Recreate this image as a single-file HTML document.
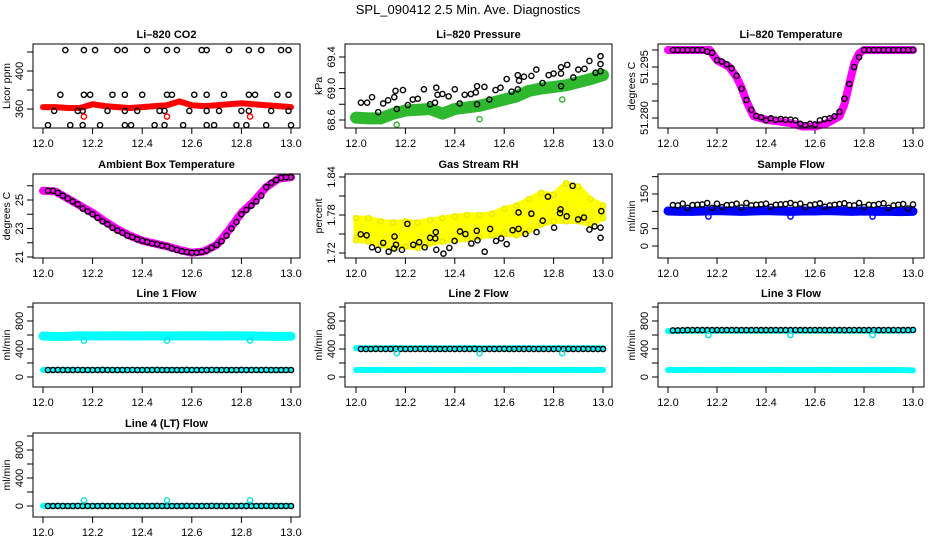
<!DOCTYPE html>
<html><head><meta charset="utf-8">
<style>
html,body{margin:0;padding:0;background:#fff;}
svg{display:block;font-family:"Liberation Sans",sans-serif;}
</style></head>
<body>
<svg id="c" width="936" height="540" viewBox="0 0 936 540" xmlns="http://www.w3.org/2000/svg">
<rect width="936" height="540" fill="#fff"/>
<text x="468" y="14" text-anchor="middle" font-size="13">SPL_090412  2.5 Min. Ave. Diagnostics</text>
</svg>
<script>
// ---------- shared time axes ----------
var bandTimes = [12.0,12.05,12.1,12.15,12.2,12.25,12.3,12.35,12.4,12.45,12.5,12.55,12.6,12.65,12.7,12.75,12.8,12.85,12.9,12.95,13.0];
var blackTimes = [12.02,12.04,12.06,12.08,12.1,12.12,12.14,12.16,12.18,12.2,12.22,12.24,12.26,12.28,12.3,12.32,12.34,12.36,12.38,12.4,12.42,12.44,12.46,12.48,12.5,12.52,12.54,12.56,12.58,12.6,12.62,12.64,12.66,12.68,12.7,12.72,12.74,12.76,12.78,12.8,12.82,12.84,12.86,12.88,12.9,12.92,12.94,12.96,12.98,13.0];
var outlierTimes = [12.165,12.5,12.835];
var xTicks = [12.0,12.2,12.4,12.6,12.8,13.0];
var xTickLabels = ["12.0","12.2","12.4","12.6","12.8","13.0"];

// ---------- CO2 ----------
var co2Band = [362,362,361,361,365,363,362,361,362,363,364,368,364,363,364,365,366,365,364,363,362];
var co2BlackTimes = [12.09,12.165,12.21,12.30,12.33,12.42,12.50,12.54,12.64,12.66,12.75,12.83,12.88,12.96,12.99,
 12.07,12.165,12.19,12.28,12.33,12.40,12.50,12.52,12.61,12.66,12.73,12.83,12.855,12.945,12.99,
 12.045,12.14,12.16,12.26,12.33,12.38,12.47,12.49,12.59,12.66,12.71,12.80,12.83,12.92,12.99,
 12.02,12.11,12.16,12.23,12.33,12.355,12.45,12.49,12.565,12.66,12.69,12.78,12.82,12.90,13.0];
var co2Black = [422,422,422,422,422,422,422,422,422,422,422,422,422,422,422,
 375,375,375,375,375,375,375,375,375,375,375,375,375,375,375,
 358,358,358,358,358,358,358,358,358,358,358,358,358,358,358,
 343,343,343,343,343,343,343,343,343,343,343,343,343,343,343];
var co2Outliers = [352,352,352];

// ---------- Pressure ----------
var presBand = [68.63,68.62,68.62,68.68,68.72,68.73,68.74,68.68,68.74,68.76,68.78,68.82,68.86,68.90,68.97,69.00,69.02,69.04,69.08,69.12,69.17];
var presBlackTimes = [12.02,12.045,12.065,12.09,12.11,12.13,12.155,12.16,12.165,12.19,12.21,12.23,12.25,12.275,12.30,12.32,12.325,12.33,12.35,12.375,12.40,12.42,12.44,12.465,12.485,12.49,12.49,12.52,12.54,12.565,12.585,12.61,12.63,12.655,12.655,12.66,12.68,12.71,12.73,12.755,12.78,12.80,12.83,12.83,12.83,12.855,12.88,12.90,12.925,12.945,12.97,12.99,12.99,12.99];
var presBlack = [68.82,68.82,68.89,68.70,68.81,68.85,68.89,68.97,68.74,68.98,68.79,68.86,68.87,68.99,68.80,68.82,69.01,68.92,68.93,68.90,68.99,68.81,68.92,68.93,68.95,69.03,68.80,69.02,68.86,68.98,69.01,69.12,68.96,68.99,69.17,69.10,69.15,69.16,69.24,69.07,69.17,69.19,69.19,69.27,69.03,69.30,69.14,69.24,69.25,69.35,69.20,69.22,69.31,69.41];
var presOutliers = [68.54,68.61,68.86];

// ---------- Li-820 temperature ----------
var tempBandTimes = [12.0,12.1,12.17,12.2,12.25,12.28,12.3,12.32,12.35,12.4,12.5,12.55,12.6,12.65,12.7,12.72,12.74,12.76,12.78,12.8,12.9,13.0];
var tempBand = [51.300,51.300,51.300,51.297,51.295,51.292,51.289,51.285,51.2805,51.2795,51.2785,51.2775,51.2775,51.2785,51.2805,51.2840,51.2900,51.2960,51.2990,51.300,51.300,51.300];
var tempBlack = [51.300,51.300,51.300,51.300,51.300,51.300,51.300,51.2995,51.2992,51.2970,51.2966,51.2958,51.2946,51.2924,51.2886,51.2853,51.2824,51.2806,51.2802,51.2793,51.2799,51.2795,51.2797,51.2795,51.2795,51.2793,51.2783,51.2779,51.2783,51.2781,51.2793,51.2797,51.2799,51.2805,51.2818,51.2857,51.2900,51.2950,51.2979,51.3000,51.3000,51.3000,51.3000,51.3000,51.3000,51.3000,51.3000,51.3000,51.3000,51.3000];

// ---------- Ambient box temperature ----------
var ambBand = [25.65,25.6,25.1,24.6,24.1,23.5,22.95,22.5,22.15,21.95,21.75,21.5,21.3,21.4,21.85,22.9,24.1,24.9,25.9,26.5,26.6];
var ambBlack = [25.65,25.65,25.5,25.3,25.1,24.9,24.7,24.4,24.2,24.0,23.75,23.5,23.3,23.05,22.85,22.7,22.5,22.4,22.25,22.15,22.05,21.95,21.9,21.8,21.75,21.6,21.5,21.4,21.35,21.3,21.3,21.35,21.45,21.65,21.85,22.1,22.5,23.0,23.45,24.0,24.3,24.6,24.9,25.3,25.9,26.2,26.4,26.55,26.6,26.6];

// ---------- Gas stream RH ----------
var rhHi = [1.775,1.775,1.770,1.768,1.770,1.768,1.772,1.775,1.778,1.780,1.780,1.782,1.790,1.795,1.805,1.815,1.812,1.830,1.825,1.805,1.795];
var rhLo = [1.740,1.738,1.732,1.728,1.730,1.728,1.735,1.738,1.740,1.742,1.745,1.748,1.750,1.748,1.755,1.765,1.770,1.770,1.770,1.765,1.775];
var rhBlackTimes = [12.019,12.043,12.065,12.089,12.110,12.132,12.154,12.156,12.162,12.186,12.208,12.232,12.256,12.278,12.300,12.321,12.323,12.325,12.354,12.378,12.399,12.421,12.443,12.467,12.489,12.492,12.521,12.543,12.567,12.588,12.610,12.634,12.658,12.658,12.686,12.710,12.731,12.756,12.777,12.802,12.826,12.828,12.853,12.877,12.899,12.923,12.945,12.966,12.99,12.99,12.993];
var rhBlack = [1.7495,1.748,1.729,1.725,1.736,1.722,1.727,1.746,1.733,1.725,1.766,1.733,1.737,1.729,1.744,1.743,1.753,1.725,1.719,1.728,1.739,1.754,1.750,1.735,1.755,1.740,1.722,1.758,1.739,1.743,1.734,1.756,1.784,1.758,1.750,1.782,1.753,1.771,1.809,1.760,1.783,1.789,1.778,1.826,1.773,1.776,1.757,1.762,1.760,1.744,1.786];

// ---------- Sample flow ----------
var sampBand = [101,100,100,101,102,101,100,101,102,101,100,101,101,102,101,100,101,100,100,99,100];
var sampBlack = [118,117,122,110,118,119,120,124,110,122,112,118,119,122,111,124,117,119,120,122,113,119,120,121,124,119,122,112,118,120,123,113,117,119,121,123,118,117,124,112,119,118,121,123,110,117,119,121,108,120];
var sampOutliers = [85,85,85];

// ---------- Line flows ----------
var l1Upper = [585,578,580,590,585,588,590,586,588,590,585,587,590,588,586,590,588,585,583,580,582];
var l1Lower = [100,100,101,100,100,101,100,100,100,101,100,100,100,101,100,100,100,101,100,100,100];
var l1Black = [100,100,101,100,100,100,101,100,100,100,100,101,100,100,100,100,100,101,100,100,100,100,101,100,100,100,100,100,101,100,100,100,100,101,100,100,100,100,100,101,100,100,100,100,101,100,100,100,100,100];
var l1Outliers = [520,520,520];
var l2Upper = [412,410,410,412,411,410,412,410,411,412,410,411,410,412,411,410,412,411,410,412,410];
var l2Lower = [100,100,101,100,100,101,100,100,100,101,100,100,100,101,100,100,100,101,100,100,100];
var l2Black = [400,400,400,401,400,400,400,401,400,400,400,400,401,400,400,400,400,400,401,400,400,400,400,401,400,400,400,400,400,401,400,400,400,400,401,400,400,400,400,400,401,400,400,400,400,401,400,400,400,400];
var l2Outliers = [340,340,340];
var l3Upper = [655,660,660,662,660,661,660,662,660,661,660,662,660,661,660,662,660,661,660,662,665];
var l3Lower = [100,100,101,100,100,101,100,100,100,101,100,100,100,101,100,100,100,101,100,100,95];
var l3Black = [665,666,668,670,670,671,670,670,670,671,670,670,670,671,670,670,670,671,670,670,670,671,670,670,670,671,670,670,670,671,670,670,670,671,670,670,670,671,670,670,670,671,670,670,670,671,670,670,670,672];
var l3Outliers = [600,600,600];
var l4Band = [2,1,2,1,2,1,2,1,2,1,2,1,2,1,2,1,2,1,2,1,2];
var l4Black = [0,0,1,0,0,0,1,0,0,0,0,1,0,0,0,0,0,1,0,0,0,0,1,0,0,0,0,0,1,0,0,0,0,1,0,0,0,0,0,1,0,0,0,0,1,0,0,0,0,0];
var l4Outliers = [80,80,80];

// ---------- axis config ----------
var co2Ticks=[360,380,400,420], co2Labels=["360","","400",""];
var presTicks=[68.6,68.8,69.0,69.2,69.4], presLabels=["68.6","","69.0","","69.4"];
var tempTicks=[51.280,51.285,51.290,51.295,51.300], tempLabels=["51.280","","","51.295",""];
var ambTicks=[21,22,23,24,25,26], ambLabels=["21","","23","","25",""];
var rhTicks=[1.72,1.75,1.78,1.81,1.84], rhLabels=["1.72","","1.78","","1.84"];
var sampTicks=[0,50,100,150,200], sampLabels=["0","50","","150",""];
var flowTicks=[0,200,400,600,800,1000], flowLabels=["0","","400","","800",""];

var NS="http://www.w3.org/2000/svg";
var svg=document.getElementById('c');
function mk(tag,attrs,parent){var e=document.createElementNS(NS,tag);for(var k in attrs)e.setAttribute(k,attrs[k]);(parent||svg).appendChild(e);return e;}

var cols=[{L:33,R:300,x0:43,x1:291},{L:345,R:612,x0:356,x1:603},{L:658,R:924,x0:668,x1:913}];
var rows=[{T:44,B:128},{T:174,B:258},{T:303,B:387},{T:433,B:517}];

function panel(name,title,ytitle,c,r,v1,y1off,v2,y2off,ticks,labels){
  var col=cols[c],row=rows[r];
  var g=mk('g',{});
  
  
  var ya=row.T+y1off, yb=row.T+y2off;
  var p={g:g,
    x:function(t){return col.x0+(t-12)*(col.x1-col.x0);},
    y:function(v){return ya+(v-v1)*(yb-ya)/(v2-v1);}};
  var t=mk('text',{x:(col.L+col.R)/2,y:row.T-6,'text-anchor':'middle','font-size':'11','font-weight':'bold'},g);
  t.textContent=title;
  
  
  var yt=mk('text',{'font-size':'10.5','text-anchor':'middle',transform:'translate('+(col.L-23)+','+((row.T+row.B)/2)+') rotate(-90)'},g);
  yt.textContent=ytitle;
  
  
  for(var i=0;i<xTicks.length;i++){
    var xx=p.x(xTicks[i]);
    var tk=mk('line',{x1:xx,x2:xx,y1:row.B,y2:row.B+6,stroke:'#000','stroke-width':1},g);
    
    
    var tl=mk('text',{x:xx,y:row.B+19,'text-anchor':'middle','font-size':'11'},g);
    tl.textContent=xTickLabels[i];
    
    
  }
  for(var j=0;j<ticks.length;j++){
    var yy=p.y(ticks[j]);
    var yk=mk('line',{x1:col.L-6,x2:col.L,y1:yy,y2:yy,stroke:'#000','stroke-width':1},g);
    
    
    if(labels[j]){
      var yl=mk('text',{'font-size':'11','text-anchor':'middle',transform:'translate('+(col.L-10)+','+yy+') rotate(-90)'},g);
      yl.textContent=labels[j];
      
      
    }
  }
  p.finish=function(){
    var b=mk('rect',{x:col.L,y:row.T,width:col.R-col.L,height:row.B-row.T,fill:'none',stroke:'#000','stroke-width':1},g);
    
    
  };
  return p;
}
function band(p,ts,vs,color,w,nm){
  var pts=[];for(var i=0;i<ts.length;i++)pts.push(p.x(ts[i])+','+p.y(vs[i]));
  var l=mk('polyline',{points:pts.join(' '),fill:'none',stroke:color,'stroke-width':w,'stroke-linejoin':'round','stroke-linecap':'round'},p.g);
  
  
}
function pts(p,ts,vs,color,nm){
  for(var i=0;i<ts.length;i++){
    var c=mk('circle',{cx:p.x(ts[i]),cy:p.y(vs[i]),r:2.6,fill:'none',stroke:color,'stroke-width':1.4},p.g);
    
    
  }
}

// CO2
var p=panel('co2','Li\u2013820 CO2','Licor ppm',0,0,360,65,400,27,co2Ticks,co2Labels);
band(p,bandTimes,co2Band,'#ff0000',6,'co2-band');
pts(p,co2BlackTimes,co2Black,'#000','co2-point');
pts(p,outlierTimes,co2Outliers,'#ff0000','co2-outlier');
p.finish();

// Pressure
p=panel('pressure','Li\u2013820 Pressure','kPa',1,0,68.6,76,69.4,13,presTicks,presLabels);
band(p,bandTimes,presBand,'#2db82d',12,'pressure-band');
pts(p,presBlackTimes,presBlack,'#000','pressure-point');
pts(p,outlierTimes,presOutliers,'#2db82d','pressure-outlier');
p.finish();

// Temperature
p=panel('li820-temp','Li\u2013820 Temperature','degrees C',2,0,51.280,74,51.295,23,tempTicks,tempLabels);
band(p,tempBandTimes,tempBand,'#ff00ff',8,'temp-band');
pts(p,blackTimes,tempBlack,'#000','temp-point');
p.finish();

// Ambient
p=panel('ambient-temp','Ambient Box Temperature','degrees C',0,1,21,83,25,26,ambTicks,ambLabels);
band(p,bandTimes,ambBand,'#ff00ff',8,'ambient-band');
pts(p,blackTimes,ambBlack,'#000','ambient-point');
p.finish();

// RH
p=panel('rh','Gas Stream RH','percent',1,1,1.72,79,1.84,3,rhTicks,rhLabels);
(function(){
  var a=[],i;
  for(i=0;i<bandTimes.length;i++)a.push(p.x(bandTimes[i])+','+p.y(rhHi[i]));
  for(i=bandTimes.length-1;i>=0;i--)a.push(p.x(bandTimes[i])+','+p.y(rhLo[i]));
  var pg=mk('polygon',{points:a.join(' '),fill:'#ffff00',stroke:'#ffff00','stroke-width':5,'stroke-linejoin':'round'},p.g);
  
  
})();
pts(p,bandTimes,rhHi,'#e8e800','rh-scatter');
pts(p,bandTimes,rhLo,'#e8e800','rh-scatter');
pts(p,rhBlackTimes,rhBlack,'#000','rh-point');
p.finish();

// Sample flow
p=panel('sample-flow','Sample Flow','ml/min',2,1,0,72,150,20,sampTicks,sampLabels);
band(p,bandTimes,sampBand,'#0000ff',9,'sample-band');
pts(p,blackTimes,sampBlack,'#000','sample-point');
pts(p,outlierTimes,sampOutliers,'#0000ff','sample-outlier');
p.finish();

// Line 1
p=panel('line1','Line 1 Flow','ml/min',0,2,0,74,800,18,flowTicks,flowLabels);
band(p,bandTimes,l1Upper,'#00ffff',9,'line1-upper-band');
band(p,bandTimes,l1Lower,'#00ffff',6,'line1-lower-band');
pts(p,blackTimes,l1Black,'#000','line1-point');
pts(p,outlierTimes,l1Outliers,'#00e0e0','line1-outlier');
p.finish();

// Line 2
p=panel('line2','Line 2 Flow','ml/min',1,2,0,74,800,18,flowTicks,flowLabels);
band(p,bandTimes,l2Upper,'#00ffff',6,'line2-upper-band');
band(p,bandTimes,l2Lower,'#00ffff',6,'line2-lower-band');
pts(p,blackTimes,l2Black,'#000','line2-point');
pts(p,outlierTimes,l2Outliers,'#00e0e0','line2-outlier');
p.finish();

// Line 3
p=panel('line3','Line 3 Flow','ml/min',2,2,0,74,800,18,flowTicks,flowLabels);
band(p,bandTimes,l3Upper,'#00ffff',6,'line3-upper-band');
band(p,bandTimes,l3Lower,'#00ffff',6,'line3-lower-band');
pts(p,blackTimes,l3Black,'#000','line3-point');
pts(p,outlierTimes,l3Outliers,'#00e0e0','line3-outlier');
p.finish();

// Line 4
p=panel('line4','Line 4 (LT) Flow','ml/min',0,3,0,73,800,17,flowTicks,flowLabels);
band(p,bandTimes,l4Band,'#00ffff',6,'line4-band');
pts(p,blackTimes,l4Black,'#000','line4-point');
pts(p,outlierTimes,l4Outliers,'#00e0e0','line4-outlier');
p.finish();
</script>
</body></html>
